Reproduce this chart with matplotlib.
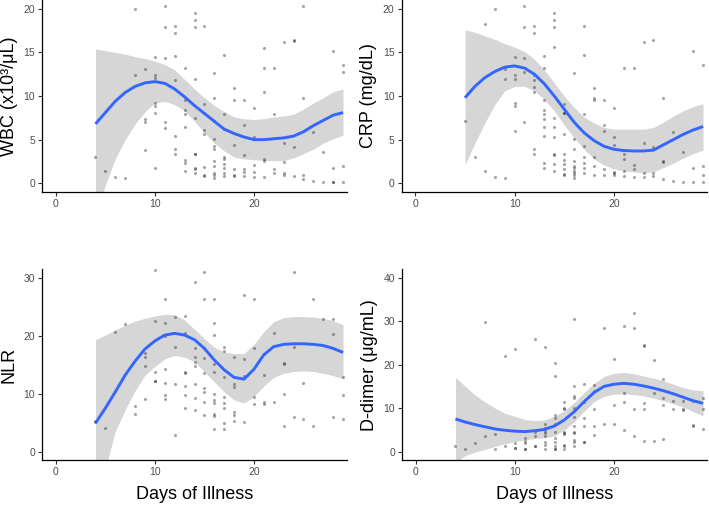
import matplotlib
matplotlib.use("Agg")
import matplotlib.pyplot as plt
import numpy as np

plt.rcParams['font.family'] = ['Liberation Sans', 'DejaVu Sans']

# ---------------- data ----------------
x_label = "Days of Illness"
x_ticks = [0, 10, 20]

# WBC
wbc_label = "WBC (x10³/μL)"
wbc_ticks = [0, 5, 10, 15, 20]
wbc_points = {
    4: [3.0], 5: [1.4], 6: [0.7], 7: [0.6], 8: [20.0, 12.4],
    9: [13.1, 7.4, 7.0, 3.8],
    10: [14.5, 12.4, 12.1, 9.2, 8.8, 8.0, 1.8],
    11: [20.3, 17.9, 14.4, 7.0, 6.3],
    12: [18.0, 17.2, 14.6, 11.8, 5.4, 3.9, 3.3],
    13: [13.2, 9.5, 8.4, 7.9, 6.4, 2.7, 2.3, 1.4],
    14: [19.5, 18.7, 17.9, 11.9, 7.5, 3.4, 3.3, 1.7, 1.6, 1.2],
    15: [18.0, 9.1, 8.0, 6.1, 5.7, 1.9, 1.0, 0.8],
    16: [12.6, 9.8, 7.1, 5.1, 4.3, 3.9, 2.5, 2.0, 1.2, 1.0, 0.6],
    17: [14.7, 7.9, 6.2, 3.0, 2.8, 2.2, 1.7, 1.2, 0.8],
    18: [10.9, 9.5, 4.4, 1.6, 1.0, 0.8],
    19: [9.5, 6.7, 3.2, 1.6, 1.3, 0.8],
    20: [8.6, 5.3, 2.1, 1.3, 0.7],
    21: [15.5, 13.2, 10.5, 2.8, 2.5, 0.7],
    22: [13.2, 7.9, 1.6, 1.2],
    23: [16.2, 4.6, 2.4, 1.2, 0.9],
    24: [16.4, 16.3, 4.1, 0.8],
    25: [20.3, 9.8, 1.0, 0.5],
    26: [5.9, 0.3], 27: [3.6, 0.2],
    28: [15.2, 1.8, 0.2, 0.2],
    29: [13.6, 12.7, 2.0, 0.2],
}
wbc_fit_days = list(range(4, 30))
wbc_fit = [6.8, 8.1, 9.4, 10.4, 11.1, 11.5, 11.65, 11.45, 10.8, 9.9, 8.9, 8.0, 7.1,
           6.2, 5.7, 5.3, 5.0, 5.0, 5.1, 5.2, 5.4, 5.9, 6.6, 7.2, 7.8, 8.1]
wbc_upper = [15.4, 15.2, 15.0, 14.8, 14.5, 14.3, 14.0, 13.6, 13.0, 11.9, 10.8, 9.8, 8.9,
             8.2, 7.6, 7.4, 7.3, 7.4, 7.6, 7.7, 7.9, 8.5, 9.2, 9.8, 10.5, 10.8]
wbc_lower = [-4.0, -0.2, 2.8, 5.0, 6.8, 8.2, 9.2, 9.4, 9.0, 8.3, 7.1, 5.8, 4.6,
             3.7, 3.0, 2.8, 2.7, 2.6, 2.6, 2.6, 2.9, 3.4, 3.9, 4.6, 5.1, 5.5]

# CRP
crp_label = "CRP (mg/dL)"
crp_ticks = [0, 5, 10, 15, 20]
crp_points = {
    5: [7.1], 6: [3.0], 7: [18.2, 1.4], 8: [20.0, 0.7], 9: [13.1, 11.9, 0.6],
    10: [14.5, 12.4, 12.0, 9.2, 8.9, 6.0],
    11: [20.3, 17.9, 14.4, 12.8, 7.0],
    12: [18.0, 17.2, 12.4, 11.8, 11.0, 10.5, 3.9, 3.3],
    13: [14.6, 13.2, 9.5, 8.4, 7.9, 7.4, 6.4, 5.4, 2.3, 1.8],
    14: [19.5, 18.7, 17.9, 15.6, 7.5, 6.4, 5.3, 3.4, 3.2, 2.2, 1.4],
    15: [9.1, 8.1, 8.0, 5.7, 3.3, 2.7, 2.2, 1.6, 1.1, 0.9],
    16: [12.6, 5.1, 3.9, 2.6, 2.0, 1.7, 1.4, 1.2, 0.9, 0.65],
    17: [18.0, 14.7, 7.9, 4.3, 3.0, 2.3, 1.7, 1.2],
    18: [10.9, 9.8, 9.5, 3.0, 2.0, 1.0],
    19: [9.5, 6.7, 6.0, 1.6, 0.9],
    20: [8.6, 5.3, 4.4, 1.3, 1.2, 0.9],
    21: [13.2, 3.3, 2.8, 1.4, 0.8],
    22: [13.2, 2.1, 1.6, 0.7],
    23: [16.2, 4.6, 1.2, 0.7],
    24: [16.4, 4.1, 1.2, 0.8],
    25: [9.8, 2.5, 2.4, 0.5],
    26: [5.9, 0.3], 27: [3.6, 0.2],
    28: [15.2, 1.8, 0.2],
    29: [13.6, 2.0, 1.0, 0.2],
}
crp_fit_days = list(range(5, 30))
crp_fit = [9.8, 11.1, 12.1, 12.8, 13.3, 13.45, 13.2, 12.5, 11.4, 10.0, 8.5, 7.0, 5.8,
           4.9, 4.25, 3.9, 3.75, 3.7, 3.7, 3.8, 4.4, 5.0, 5.6, 6.1, 6.5]
crp_upper = [17.6, 17.3, 16.9, 16.5, 16.0, 15.6, 15.1, 14.2, 13.0, 11.5, 10.0, 8.7, 7.6,
             6.9, 6.4, 6.2, 6.2, 6.2, 6.2, 6.4, 7.0, 7.7, 8.3, 8.8, 9.1]
crp_lower = [2.1, 4.6, 6.9, 9.0, 10.6, 11.1, 11.1, 10.6, 9.6, 8.3, 6.7, 5.2, 3.9,
             2.8, 2.1, 1.65, 1.4, 1.3, 1.2, 1.3, 1.8, 2.3, 2.9, 3.4, 3.8]

# NLR
nlr_label = "NLR"
nlr_ticks = [0, 10, 20, 30]
nlr_points = {
    4: [5.3, 5.1], 5: [4.0], 6: [20.6], 7: [22.0], 8: [7.8, 6.5],
    9: [17.0, 16.4, 14.8, 9.0],
    10: [31.4, 22.6, 13.7, 12.2, 12.1],
    11: [26.4, 22.1, 20.0, 14.2, 11.9, 9.7, 9.1],
    12: [23.3, 18.1, 11.6, 2.8],
    13: [23.4, 20.5, 13.7, 13.6, 11.3, 9.7, 7.5],
    14: [29.3, 17.8, 16.3, 15.4, 14.8, 11.7, 9.2, 7.1],
    15: [31.0, 26.3, 17.8, 16.1, 13.6, 10.9, 10.2, 8.6, 6.4],
    16: [26.3, 22.2, 20.2, 15.1, 13.7, 9.9, 8.9, 8.3, 6.5, 6.1, 3.9],
    17: [18.1, 17.3, 12.9, 9.5, 8.4, 7.5, 4.9, 3.9],
    18: [16.4, 11.7, 11.2, 6.9, 6.3, 5.3],
    19: [27.0, 15.9, 13.0, 5.1],
    20: [26.4, 17.8, 9.5, 8.2],
    21: [16.8, 13.2, 8.6, 8.2],
    22: [20.5, 8.6],
    23: [15.3, 15.1, 9.9, 4.4],
    24: [30.9, 18.0, 5.9],
    25: [11.9, 5.6],
    26: [26.3, 4.4],
    27: [22.8],
    28: [22.8, 20.3, 6.0],
    29: [12.9, 9.7, 5.6],
}
nlr_fit_days = list(range(4, 30))
nlr_fit = [4.9, 7.5, 10.3, 13.2, 15.6, 17.7, 19.1, 20.1, 20.4, 20.1, 19.3, 17.8, 15.8,
           14.1, 12.8, 12.5, 14.2, 16.7, 18.1, 18.5, 18.6, 18.6, 18.5, 18.3, 17.8, 17.1]
nlr_upper = [19.3, 20.1, 21.0, 21.8, 22.5, 23.0, 23.4, 23.7, 23.6, 22.7, 21.1, 19.5, 18.0,
             17.2, 16.9, 16.9, 18.5, 20.7, 22.4, 23.1, 23.3, 23.3, 23.2, 23.0, 22.6, 21.9]
nlr_lower = [-12.0, -3.0, 3.5, 7.2, 10.5, 13.2, 14.7, 16.0, 16.6, 16.3, 15.5, 13.8, 12.0,
             10.3, 8.9, 8.4, 9.5, 11.3, 12.8, 13.5, 13.8, 13.9, 13.8, 13.5, 13.1, 12.6]

# D-dimer
dd_label = "D-dimer (μg/mL)"
dd_ticks = [0, 10, 20, 30, 40]
dd_points = {
    4: [1.2], 5: [0.7], 6: [1.9], 7: [29.9, 3.7], 8: [4.1, 0.7], 9: [21.9, 1.2],
    10: [23.6, 1.9, 0.9, 0.8],
    11: [3.1, 2.5, 2.0, 0.7, 0.5],
    12: [26.0, 4.6, 3.5, 1.3, 1.2],
    13: [24.0, 6.3, 5.5, 4.8, 4.2, 3.5, 2.3, 1.5, 0.7],
    14: [20.3, 17.3, 8.5, 7.7, 6.4, 4.6, 3.1, 2.1, 1.2, 0.7, 0.5],
    15: [11.5, 10.0, 9.7, 4.6, 4.2, 4.0, 1.5, 1.2, 0.7],
    16: [30.6, 15.0, 12.9, 12.3, 10.0, 7.9, 6.0, 4.6, 4.2, 2.7, 2.3, 1.2],
    17: [15.5, 11.4, 7.7, 6.0, 2.3, 2.1],
    18: [15.3, 14.0, 9.7, 6.0, 3.8],
    19: [28.5, 6.4],
    20: [21.4, 10.7, 6.4],
    21: [28.9, 13.4, 11.4, 4.9],
    22: [31.9, 28.4, 9.7, 3.5],
    23: [24.6, 24.2, 11.1, 9.7, 2.5],
    24: [21.1, 13.4, 2.5],
    25: [16.7, 12.4, 10.8, 2.8],
    26: [11.7, 9.9],
    27: [11.7, 9.7, 9.6],
    28: [11.7, 6.1, 5.8],
    29: [12.3, 9.9, 5.1],
}
dd_fit_days = list(range(4, 30))
dd_fit = [7.5, 6.8, 6.2, 5.7, 5.2, 4.9, 4.7, 4.6, 4.8, 5.1, 5.9, 7.3, 9.2,
          11.5, 13.6, 15.0, 15.5, 15.7, 15.5, 15.1, 14.6, 14.0, 13.3, 12.5, 11.7, 11.1]
dd_upper = [17.1, 15.0, 13.0, 11.4, 10.0, 8.8, 8.1, 7.4, 7.1, 7.3, 8.1, 9.4, 11.3,
            13.6, 15.7, 17.3, 18.0, 18.2, 17.9, 17.4, 16.9, 16.3, 15.5, 14.7, 14.2, 14.0]
dd_lower = [-2.5, -0.9, -0.1, 0.5, 1.2, 1.8, 2.3, 2.7, 3.0, 3.2, 3.6, 5.0, 6.9,
            9.3, 11.5, 12.7, 13.2, 13.3, 13.1, 12.8, 12.3, 11.7, 11.0, 10.2, 9.2, 8.2]

# ---------------- drawing ----------------
W, H = 709, 505
fig = plt.figure(figsize=(W / 100, H / 100), dpi=100)

def px_axes(l, r, t, b):
    return [l / W, 1 - b / H, (r - l) / W, (b - t) / H]

panels = [
    (px_axes(42, 347, 0, 192), wbc_label, wbc_ticks, wbc_points, wbc_fit_days, wbc_fit, wbc_lower, wbc_upper, 20, False),
    (px_axes(401.5, 707, 0, 192), crp_label, crp_ticks, crp_points, crp_fit_days, crp_fit, crp_lower, crp_upper, 20, False),
    (px_axes(42, 347, 269, 460.3), nlr_label, nlr_ticks, nlr_points, nlr_fit_days, nlr_fit, nlr_lower, nlr_upper, 30, True),
    (px_axes(402, 707, 269, 460.3), dd_label, dd_ticks, dd_points, dd_fit_days, dd_fit, dd_lower, dd_upper, 40, True),
]

for rect, ylab, yt, pts, fx, fy, lo, hi, ymax, show_x in panels:
    ax = fig.add_axes(rect)
    xs = [d for d, vals in pts.items() for _ in vals]
    ys = [v for vals in pts.values() for v in vals]
    ax.fill_between(fx, lo, hi, color='#999999', alpha=0.4, linewidth=0, zorder=1)
    ax.scatter(xs, ys, s=5, color='black', alpha=0.35, linewidths=0, zorder=2)
    ax.plot(fx, fy, color='#3366FF', lw=2.1, zorder=3, solid_capstyle='butt')
    ax.set_xlim(-1.4, 29.4)
    ax.set_ylim(-0.05 * ymax, 1.05 * ymax)
    ax.set_xticks(x_ticks)
    ax.set_yticks(yt)
    for s in ['top', 'right']:
        ax.spines[s].set_visible(False)
    for s in ['left', 'bottom']:
        ax.spines[s].set_linewidth(0.9)
        ax.spines[s].set_color('black')
    ax.tick_params(axis='both', length=3, width=0.8, color='#333333',
                   labelcolor='#4D4D4D', labelsize=7.5, pad=2)
    ax.set_ylabel(ylab, fontsize=13, color='black', labelpad=4)
    if show_x:
        ax.set_xlabel(x_label, fontsize=13, color='black', labelpad=6)

fig.savefig('out.png', dpi=100)
